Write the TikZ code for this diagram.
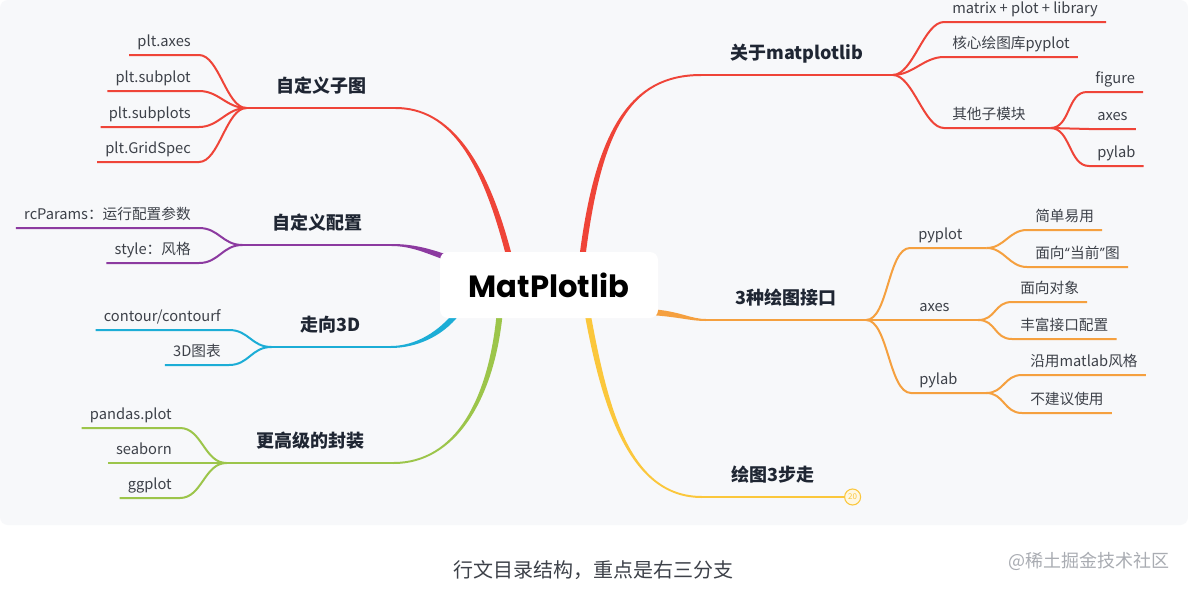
\documentclass[tikz,border=0pt]{standalone}
\usepackage{fontspec}
\setmainfont{Noto Sans CJK SC}
\newfontfamily\rootfont{Poppins}
\usepackage{tikz}
\usetikzlibrary{positioning, calc, backgrounds}
\definecolor{BranchRed}{HTML}{EF4438}
\definecolor{BranchOrange}{HTML}{F5A03F}
\definecolor{BranchYellow}{HTML}{FBC73C}
\definecolor{BranchPurple}{HTML}{8C3AA0}
\definecolor{BranchCyan}{HTML}{1CADD6}
\definecolor{BranchGreen}{HTML}{9CC54A}
\definecolor{PanelBg}{HTML}{F7F8FA}
\definecolor{InkDark}{HTML}{1F2633}
\definecolor{InkLeaf}{HTML}{3D4149}
\definecolor{MarkGray}{HTML}{A9ACB2}
% tapered main branch: colour, start, control 1, control 2, end, start offset, end offset
\newcommand{\limb}[7]{%
  \fill[#1] ($(#2)+(#6)$) .. controls ($(#3)+(#6)$) and ($(#4)+(#7)$) .. ($(#5)+(#7)$)
    -- ($(#5)-(#7)$) .. controls ($(#4)-(#7)$) and ($(#3)-(#6)$) .. ($(#2)-(#6)$) -- cycle;}

\begin{document}
\begin{tikzpicture}[
    x=0.75pt, y=-0.75pt,
    rootbox/.style={fill=white, rounded corners=6pt, inner sep=0pt, minimum width=163.5pt, minimum height=49.5pt, font=\rootfont\bfseries\fontsize{23}{27}\selectfont, text=black},
    topic/.style={font=\bfseries\fontsize{13.5}{16}\selectfont, text=InkDark, inner xsep=22pt, inner ysep=9.4pt, text height=0.8em, text depth=0.2em, anchor=south},
    leaf/.style={font=\fontsize{11}{13}\selectfont, text=InkLeaf, inner xsep=6pt, inner ysep=4pt, text height=0.8em, text depth=0.2em},
    hub/.style={leaf, text width=#1, align=left},
    twig/.style={line width=1.5pt, draw=#1}
]
    \useasboundingbox (0,0) rectangle (1188,589);
    \begin{scope}[on background layer]
        \fill[white] (0,0) rectangle (1188,589);
        \fill[PanelBg, rounded corners=6pt] (0,0) rectangle (1188,525);
    \end{scope}

    \node[rootbox] (root) at (549,285) {MatPlotlib};

    % topics
    \node[topic] (about) at (797,75) {关于matplotlib};
    \node[topic] (iface) at (786,320) {3种绘图接口};
    \node[topic] (steps) at (773,497) {绘图3步走};
    \node[topic] (subfig) at (321,108) {自定义子图};
    \node[topic] (config) at (317,245) {自定义配置};
    \node[topic] (three) at (331,347) {走向3D};
    \node[topic] (wrap) at (310,463) {更高级的封装};

    \node[circle, draw=BranchYellow, fill=BranchYellow!15, line width=0.8pt, inner sep=0pt, minimum size=12pt, font=\fontsize{6}{7}\selectfont, text=BranchYellow, anchor=west] (count) at (steps.south east) {20};

    % right leaves
    \node[leaf, anchor=south west] (lib) at (944,22) {matrix + plot + library};
    \node[leaf, anchor=south west] (core) at (944,57) {核心绘图库pyplot};
    \node[hub=67.5pt, anchor=south west] (other) at (944,128) {其他子模块};
    \node[leaf, anchor=south west] (fig) at (1087,92) {figure};
    \node[leaf, anchor=south west] (axs) at (1089,129) {axes};
    \node[leaf, anchor=south west] (lab) at (1089,166) {pylab};

    \node[hub=45pt, anchor=south west] (pyp) at (910,248) {pyplot};
    \node[leaf, anchor=south west] (easy) at (1027,230) {简单易用};
    \node[leaf, anchor=south west] (curr) at (1027,267) {面向{\rootfont“}当前{\rootfont”}图};
    \node[hub=38pt, anchor=south west] (axe) at (911,320) {axes};
    \node[leaf, anchor=south west] (obj) at (1012,302) {面向对象};
    \node[leaf, anchor=south west] (rich) at (1012,339) {丰富接口配置};
    \node[hub=44pt, anchor=south west] (pyl) at (911,393) {pylab};
    \node[leaf, anchor=south west] (mstyle) at (1022,375) {沿用matlab风格};
    \node[leaf, anchor=south west] (avoid) at (1022,413) {不建议使用};

    % left leaves
    \node[leaf, anchor=south east] (paxes) at (199,55) {plt.axes};
    \node[leaf, anchor=south east] (psub) at (199,91) {plt.subplot};
    \node[leaf, anchor=south east] (psubs) at (199,127) {plt.subplots};
    \node[leaf, anchor=south east] (pgrid) at (199,162) {plt.GridSpec};
    \node[leaf, anchor=south east] (rcp) at (199,228) {rcParams：运行配置参数};
    \node[leaf, anchor=south east] (sty) at (199,263) {style：风格};
    \node[leaf, anchor=south east] (cont) at (229,330) {contour/contourf};
    \node[leaf, anchor=south east] (chart) at (229,365) {3D图表};
    \node[leaf, anchor=south east] (pdp) at (180,428) {pandas.plot};
    \node[leaf, anchor=south east] (sea) at (180,463) {seaborn};
    \node[leaf, anchor=south east] (ggp) at (180,498) {ggplot};

    % main branches behind the root box
    \coordinate (sAbout) at ($(root.north)+(33,8)$);
    \coordinate (sSub) at ($(root.north)+(-39,8)$);
    \coordinate (sConf) at ($(root.west)+(8,-27)$);
    \coordinate (sThree) at ($(root.south west)+(18,-6)$);
    \coordinate (sWrap) at ($(root.south)+(-49,-8)$);
    \coordinate (sSteps) at ($(root.south)+(38,-8)$);
    \coordinate (sIface) at ($(root.east)+(-8,27)$);
    \begin{scope}[on background layer]
        \limb{BranchRed}{sAbout}{598,130}{630,75}{about.south west}{3,0}{0,1}
        \limb{BranchRed}{sSub}{485,160}{450,108}{subfig.south east}{3,0}{0,-1}
        \limb{BranchPurple}{sConf}{428,251}{412,245}{config.south east}{0,-3}{0,-1}
        \limb{BranchCyan}{sThree}{440,335}{415,347}{three.south east}{-1.5,-2.6}{0,-1}
        \limb{BranchGreen}{sWrap}{492,400}{455,463}{wrap.south east}{-3,0}{0,-1}
        \limb{BranchYellow}{sSteps}{605,410}{630,497}{steps.south west}{-3,0}{0,1}
        \limb{BranchOrange}{sIface}{680,314}{690,320}{iface.south west}{0,3}{0,1}
    \end{scope}

    % underlines of the topics
    \draw[twig=BranchRed] (about.south west) -- (about.south east);
    \draw[twig=BranchOrange] (iface.south west) -- (iface.south east);
    \draw[twig=BranchYellow] (steps.south west) -- (count.west);
    \draw[twig=BranchRed] (subfig.south west) -- (subfig.south east);
    \draw[twig=BranchPurple] (config.south west) -- (config.south east);
    \draw[twig=BranchCyan] (three.south west) -- (three.south east);
    \draw[twig=BranchGreen] (wrap.south west) -- (wrap.south east);

    % right twigs
    \foreach \n in {lib, core, other}
        \draw[twig=BranchRed] (about.south east) .. controls +(20,0) and +(-20,0) .. (\n.south west) -- (\n.south east);
    \foreach \n in {fig, axs, lab}
        \draw[twig=BranchRed] (other.south east) .. controls +(20,0) and +(-20,0) .. (\n.south west) -- (\n.south east);
    \foreach \n in {pyp, axe, pyl}
        \draw[twig=BranchOrange] (iface.south east) .. controls +(22,0) and +(-22,0) .. (\n.south west) -- (\n.south east);
    \foreach \n in {easy, curr}
        \draw[twig=BranchOrange] (pyp.south east) .. controls +(18,0) and +(-18,0) .. (\n.south west) -- (\n.south east);
    \foreach \n in {obj, rich}
        \draw[twig=BranchOrange] (axe.south east) .. controls +(18,0) and +(-18,0) .. (\n.south west) -- (\n.south east);
    \foreach \n in {mstyle, avoid}
        \draw[twig=BranchOrange] (pyl.south east) .. controls +(18,0) and +(-18,0) .. (\n.south west) -- (\n.south east);

    % left twigs
    \foreach \n in {paxes, psub, psubs, pgrid}
        \draw[twig=BranchRed] (subfig.south west) .. controls +(-20,0) and +(20,0) .. (\n.south east) -- (\n.south west);
    \foreach \n in {rcp, sty}
        \draw[twig=BranchPurple] (config.south west) .. controls +(-20,0) and +(20,0) .. (\n.south east) -- (\n.south west);
    \foreach \n in {cont, chart}
        \draw[twig=BranchCyan] (three.south west) .. controls +(-20,0) and +(20,0) .. (\n.south east) -- (\n.south west);
    \foreach \n in {pdp, sea, ggp}
        \draw[twig=BranchGreen] (wrap.south west) .. controls +(-22,0) and +(22,0) .. (\n.south east) -- (\n.south west);

    % caption and mark
    \node[font=\fontsize{15}{18}\selectfont, text=InkLeaf] (caption) at (593,570) {行文目录结构，重点是右三分支};
    \node[font=\fontsize{13.5}{16}\selectfont, text=MarkGray] (mark) at (1089,561) {@稀土掘金技术社区};
\end{tikzpicture}
\end{document}
